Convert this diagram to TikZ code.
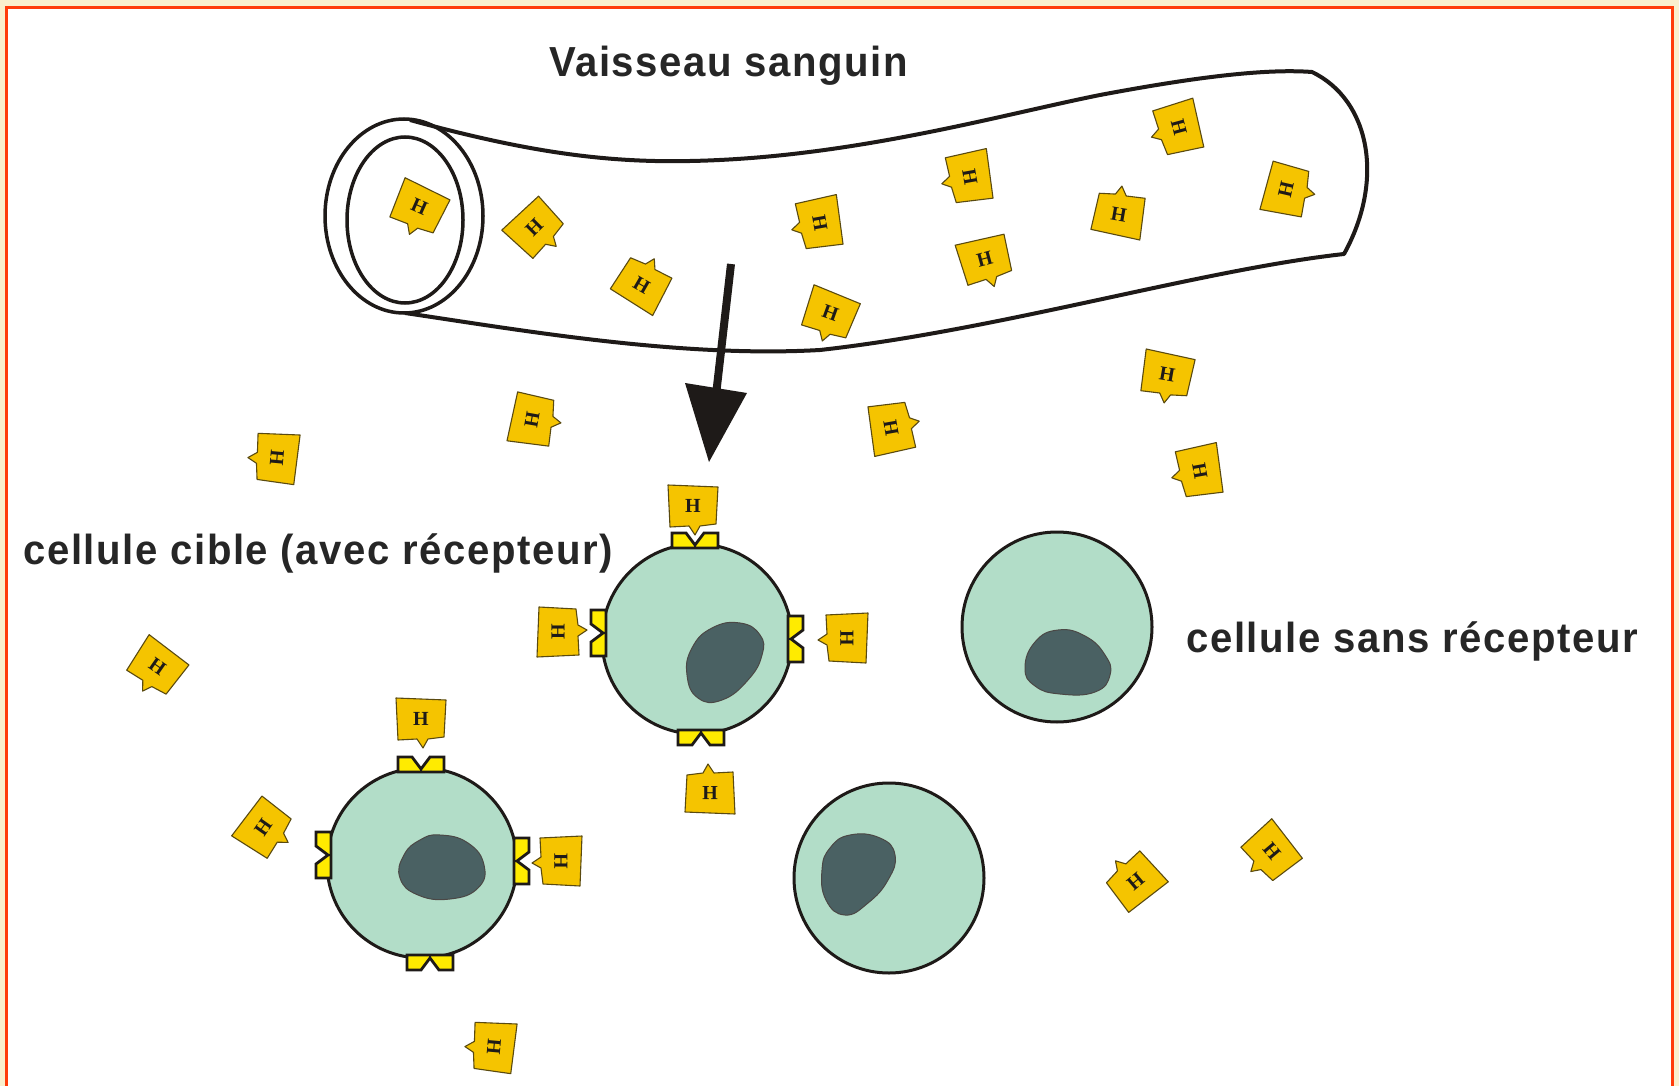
\documentclass[tikz,border=0pt]{standalone}
\usepackage{fontspec}
\usetikzlibrary{shapes.geometric}
\setmainfont{Liberation Sans}
\newfontfamily\labelfont[LetterSpace=4]{Liberation Sans}
\newfontfamily\hfont{Liberation Serif}
\begin{document}
\begin{tikzpicture}[x=1pt,y=-1pt]
\definecolor{page}{HTML}{FAF0CD}
\definecolor{framec}{HTML}{FF3D0A}
\definecolor{cellc}{HTML}{B2DDC8}
\definecolor{nucc}{HTML}{4A6163}
\definecolor{hormc}{HTML}{F5C400}
\definecolor{hormedge}{HTML}{5A4A10}
\definecolor{recc}{HTML}{FFEB00}
\definecolor{ink}{HTML}{1E1A18}
\definecolor{labelc}{HTML}{262626}
\tikzset{
  txt/.style={font=\labelfont\bfseries\fontsize{42}{46}\selectfont, text=labelc, inner sep=0, xscale=0.955},
  cell/.style={circle, minimum size=190, inner sep=0, fill=cellc, draw=ink, line width=3},
  nucleus/.style={fill=nucc, draw=ink!80, line width=1},
  vessel/.style={draw=ink, line width=4, line join=round},
  ring/.style={draw=ink, line width=3.5, ellipse, inner sep=0},
  hormone/.pic={
    \filldraw[fill=hormc, draw=hormedge, line width=1.1, line join=round]
      (-25,-22) -- (25,-20) -- (23,17) -- (7,19) -- (2,28) -- (-4,19) -- (-23,20) -- cycle;
    \node[transform shape, font=\hfont\bfseries\fontsize{20}{20}\selectfont, text=ink, inner sep=0] at (0,-1) {H};
  },
  receptor/.pic={
    \filldraw[fill=recc, draw=ink, line width=2.8, line join=miter]
      (-23,2) -- (-23,-13) -- (-9,-13) -- (0,-1) -- (9,-13) -- (23,-13) -- (23,2) -- cycle;
  }
}
% page and frame
\fill[page] (0,0) rectangle (1679,1086);
\useasboundingbox (0,0) rectangle (1679,1086);
\draw[framec, line width=3, fill=white] (6,8) rectangle (1672,1100);

% blood vessel
\draw[vessel] (410,120) .. controls (520,150) and (600,163) .. (690,161)
  .. controls (850,158) and (1000,115) .. (1100,95)
  .. controls (1180,80) and (1260,68) .. (1312,72)
  .. controls (1370,100) and (1385,180) .. (1344,254)
  .. controls (1200,270) and (1000,330) .. (820,350)
  .. controls (680,358) and (520,330) .. (405,313);
\node[ring, minimum width=158, minimum height=194] (outerring) at (404,216) {};
\node[ring, minimum width=116, minimum height=166] (innerring) at (405,220) {};

% hormones in and around the vessel
\pic (ha) [rotate=-24] at (419,208) {hormone};
\pic (hb) [rotate=45] at (535,228) {hormone};
\pic (hc) [rotate=150] at (642,284) {hormone};
\pic (hd) [rotate=-80] at (819,223) {hormone};
\pic (he) [rotate=-20] at (830,314) {hormone};
\pic (hf) [rotate=-80] at (969,177) {hormone};
\pic (hg) [rotate=15] at (985,260) {hormone};
\pic (hh) [rotate=170] at (1119,214) {hormone};
\pic (hi) [rotate=-75] at (1178,128) {hormone};
\pic (hj) [rotate=77] at (1287,190) {hormone};
\pic (hk) [rotate=-10] at (1167,375) {hormone};
\pic (hl) [rotate=-80] at (1199,471) {hormone};
\pic (hm) [rotate=100] at (892,428) {hormone};
\pic (hn) [rotate=80] at (533,420) {hormone};
\pic (ho) [rotate=-95] at (276,458) {hormone};
\pic (hp) [rotate=-35] at (157,667) {hormone};
\pic (hw) [rotate=55] at (264,828) {hormone};
\pic (hx) [rotate=-95] at (493,1047) {hormone};
\pic (hy) [rotate=-140] at (1135,881) {hormone};
\pic (hz) [rotate=-50] at (1271,852) {hormone};

% arrow from the vessel towards the target cell
\coordinate (atail) at (731,264);
\coordinate (abase) at (716,395);
\coordinate (atip) at (709,462);
\coordinate (aleft) at (685,383);
\coordinate (aright) at (747,393);
\draw[ink, line width=8] (atail) -- (abase);
\fill[ink] (aleft) -- (atip) -- (aright) -- cycle;

% target cell with receptors (upper)
\node[cell] (cellA) at (697,639) {};
\draw[nucleus] plot[smooth cycle, tension=0.8] coordinates {(740,623) (760,635) (762,655) (748,680) (722,700) (698,698) (687,675) (692,648) (712,628)};
\pic (rA1) at (695,546) {receptor};
\pic (rA2) [rotate=90] at (604,633) {receptor};
\pic (rA3) [rotate=-90] at (790,639) {receptor};
\pic (rA4) [rotate=180] at (701,732) {receptor};
\pic (hq) [rotate=0] at (693,507) {hormone};
\pic (hr) [rotate=90] at (559,632) {hormone};
\pic (hs) [rotate=-90] at (846,638) {hormone};
\pic (ht) [rotate=180] at (710,792) {hormone};

% target cell with receptors (lower left)
\node[cell] (cellB) at (422,863) {};
\draw[nucleus] plot[smooth cycle, tension=0.8] coordinates {(440,835) (468,843) (484,865) (478,888) (450,899) (418,895) (400,878) (404,855) (420,840)};
\pic (rB1) at (421,770) {receptor};
\pic (rB2) [rotate=90] at (329,855) {receptor};
\pic (rB3) [rotate=-90] at (516,861) {receptor};
\pic (rB4) [rotate=180] at (430,957) {receptor};
\pic (hu) [rotate=0] at (421,720) {hormone};
\pic (hv) [rotate=-90] at (560,861) {hormone};

% cells without receptor
\node[cell] (cellC) at (1057,627) {};
\draw[nucleus] plot[smooth cycle, tension=0.8] coordinates {(1058,630) (1085,636) (1105,655) (1110,675) (1095,692) (1060,694) (1035,686) (1025,668) (1035,642)};
\node[cell] (cellD) at (889,878) {};
\draw[nucleus] plot[smooth cycle, tension=0.8] coordinates {(850,835) (880,838) (895,855) (888,880) (868,903) (845,915) (826,900) (822,870) (830,848)};

% labels
\node[txt, anchor=base west] (vlabel) at (549,77) {Vaisseau sanguin};
\node[txt, anchor=base west] (clabel) at (23,564) {cellule cible (avec récepteur)};
\node[txt, anchor=base west] (slabel) at (1186,652) {cellule sans récepteur};
\end{tikzpicture}
\end{document}
